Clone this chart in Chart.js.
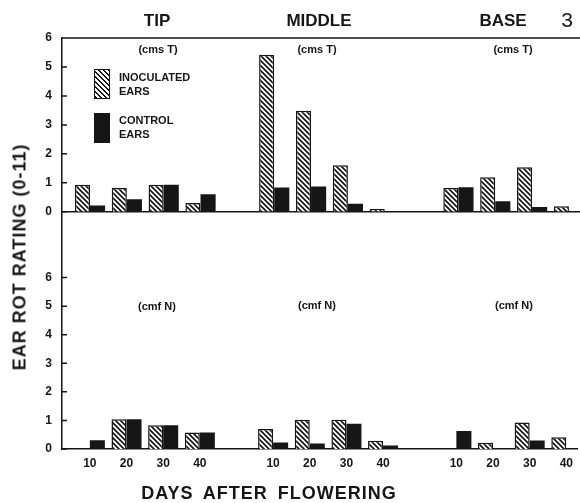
<!DOCTYPE html>
<html>
<head>
<meta charset="utf-8">
<script src="https://cdn.jsdelivr.net/npm/chart.js@4"></script>
<style>
  body { margin: 0; background: #fff; }
  #wrap { position: relative; width: 580px; height: 503px; font-family: "Liberation Sans", Arial, sans-serif; color: #161616; }
  #wrap canvas { position: absolute; left: 0; }
  .lbl { position: absolute; white-space: nowrap; transform: translate(-50%, -50%); font-weight: bold; }
  .sec { font-size: 17px; }
  .note { font-size: 11px; }
  .leg { font-size: 11px; line-height: 14px; position: absolute; font-weight: bold; }
  .box { position: absolute; width: 14px; height: 28px; border: 1.5px solid #161616; }
</style>
</head>
<body>
<div id="wrap">
  <canvas id="topChart" width="580" height="229" style="top:0"></canvas>
  <canvas id="botChart" width="580" height="308" style="top:195px"></canvas>

  <div class="lbl sec" style="left:157px;top:21px">TIP</div>
  <div class="lbl sec" style="left:319px;top:21px">MIDDLE</div>
  <div class="lbl sec" style="left:503px;top:21px">BASE</div>
  <div class="lbl" style="left:567px;top:20px;font-size:21px;font-weight:normal">3</div>

  <div class="lbl note" style="left:158px;top:49px">(cms T)</div>
  <div class="lbl note" style="left:317px;top:49px">(cms T)</div>
  <div class="lbl note" style="left:513px;top:49px">(cms T)</div>
  <div class="lbl note" style="left:157px;top:306px">(cmf N)</div>
  <div class="lbl note" style="left:317px;top:305px">(cmf N)</div>
  <div class="lbl note" style="left:514px;top:305px">(cmf N)</div>

  <div class="box" style="left:94px;top:69px;background:repeating-linear-gradient(45deg,#161616 0 1.6px,#fff 1.6px 3.6px)"></div>
  <div class="leg" style="left:119px;top:70px">INOCULATED<br>EARS</div>
  <div class="box" style="left:94px;top:113px;background:#161616"></div>
  <div class="leg" style="left:119px;top:113px">CONTROL<br>EARS</div>

  <div class="lbl" style="left:20px;top:257px;font-size:18px;letter-spacing:1px;transform:translate(-50%,-50%) rotate(-90deg)">EAR ROT RATING (0-11)</div>
  <div class="lbl" style="left:269px;top:493px;font-size:18px;letter-spacing:1px;word-spacing:4px">DAYS AFTER FLOWERING</div>
</div>

<script>
// days after flowering, repeated for each ear section
const days = ['10', '20', '30', '40'];
const sections = ['TIP', 'MIDDLE', 'BASE'];

// (cms T) - top panel, values per section: TIP 10..40, MIDDLE 10..40, BASE 10..40
const cmsInoculated = [0.93, 0.82, 0.93, 0.30, 5.42, 3.49, 1.61, 0.10, 0.82, 1.19, 1.54, 0.19];
const cmsControl    = [0.22, 0.43, 0.93, 0.61, 0.84, 0.87, 0.28, 0.00, 0.85, 0.36, 0.17, 0.00];

// (cmf N) - bottom panel
const cmfInoculated = [0.00, 1.04, 0.83, 0.58, 0.70, 1.02, 1.02, 0.29, 0.00, 0.22, 0.93, 0.41];
const cmfControl    = [0.31, 1.04, 0.83, 0.58, 0.23, 0.19, 0.88, 0.12, 0.63, 0.00, 0.30, 0.00];

const yTicks = [0, 1, 2, 3, 4, 5, 6];

const INK = '#161616';
const FONT = '"Liberation Sans", Arial, sans-serif';

// one empty slot between the sections
const slotOf = i => Math.floor(i / days.length) * (days.length + 1) + (i % days.length);
const slots = cmsInoculated.map((v, i) => slotOf(i));

function makeHatch() {
  const c = document.createElement('canvas');
  c.width = 5; c.height = 5;
  const g = c.getContext('2d');
  g.fillStyle = '#fff';
  g.fillRect(0, 0, 5, 5);
  g.strokeStyle = INK;
  g.lineWidth = 1.7;
  g.beginPath();
  g.moveTo(-1, -1); g.lineTo(6, 6);
  g.moveTo(-1, 4); g.lineTo(1, 6);
  g.moveTo(4, -1); g.lineTo(6, 1);
  g.stroke();
  return g.createPattern(c, 'repeat');
}
const hatch = makeHatch();

// inward tick marks on the y axis, and the frame line on top
const framePlugin = {
  id: 'frame',
  afterDraw(chart, args, opts) {
    const ctx = chart.ctx, a = chart.chartArea, y = chart.scales.y;
    ctx.save();
    ctx.strokeStyle = INK;
    ctx.lineWidth = 1.5;
    ctx.beginPath();
    yTicks.forEach(v => {
      const p = y.getPixelForValue(v);
      ctx.moveTo(a.left, p);
      ctx.lineTo(a.left + 5, p);
    });
    if (opts.topLine) {
      ctx.moveTo(a.left, a.top);
      ctx.lineTo(a.right, a.top);
    }
    ctx.stroke();
    ctx.restore();
  }
};

function pts(values) {
  return values.map((v, i) => ({ x: slots[i], y: v }));
}

function makeChart(id, inoc, ctrl, opt) {
  return new Chart(document.getElementById(id), {
    type: 'bar',
    data: {
      datasets: [
        { label: 'INOCULATED EARS', data: pts(inoc), backgroundColor: hatch, borderColor: INK, borderWidth: 1.5 },
        { label: 'CONTROL EARS', data: pts(ctrl), backgroundColor: INK, borderColor: INK, borderWidth: 0 }
      ]
    },
    options: {
      responsive: false,
      animation: false,
      events: [],
      categoryPercentage: 0.82,
      barPercentage: 1.0,
      layout: { padding: { top: opt.padTop, left: 0, right: 0, bottom: 0 } },
      plugins: { legend: { display: false }, tooltip: { enabled: false }, frame: { topLine: opt.topLine } },
      scales: {
        x: {
          type: 'linear',
          offset: false,
          min: -0.76,
          max: 13.3,
          afterBuildTicks: s => { s.ticks = slots.map(v => ({ value: v })); },
          afterFit: s => { s.height = opt.xHeight; },
          grid: { display: false, drawTicks: false },
          border: { display: true, color: INK, width: 1.5 },
          ticks: {
            display: opt.showX,
            padding: 7,
            color: INK,
            font: { family: FONT, size: 12, weight: 'bold' },
            callback: v => days[v % (days.length + 1)]
          }
        },
        y: {
          min: 0,
          max: opt.yMax,
          afterBuildTicks: s => { s.ticks = yTicks.map(v => ({ value: v })); },
          afterFit: s => { s.width = 62; },
          grid: { display: false, drawTicks: false },
          border: { display: true, color: INK, width: 1.5 },
          ticks: {
            padding: 10,
            color: INK,
            font: { family: FONT, size: 12, weight: 'bold' }
          }
        }
      }
    },
    plugins: [framePlugin]
  });
}

makeChart('topChart', cmsInoculated, cmsControl, { padTop: 38, xHeight: 4, yMax: 6, showX: false, topLine: true });
makeChart('botChart', cmfInoculated, cmfControl, { padTop: 11, xHeight: 54, yMax: 8.29, showX: true, topLine: false });
</script>
</body>
</html>
